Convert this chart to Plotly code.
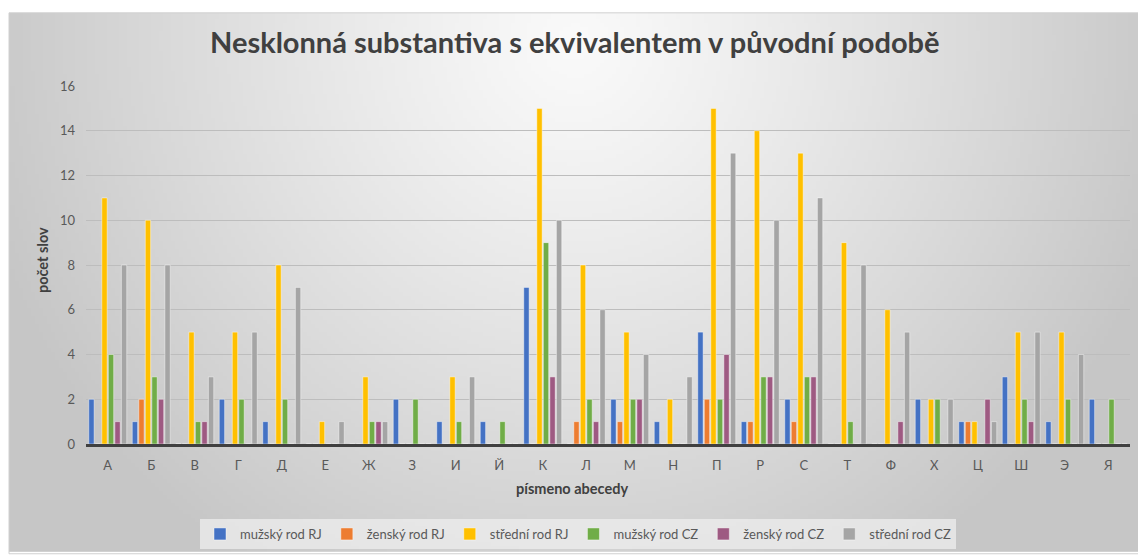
import base64, struct, zlib
import numpy as np
import plotly.graph_objects as go

categories = ["А", "Б", "В", "Г", "Д", "Е", "Ж", "З", "И", "Й", "К", "Л",
              "М", "Н", "П", "Р", "С", "Т", "Ф", "Х", "Ц", "Ш", "Э", "Я"]
muzsky_rj  = [2, 1, 0, 2, 1, 0, 0, 2, 1, 1, 7, 0, 2, 1, 5, 1, 2, 0, 0, 2, 1, 3, 1, 2]
zensky_rj  = [0, 2, 0, 0, 0, 0, 0, 0, 0, 0, 0, 1, 1, 0, 2, 1, 1, 0, 0, 0, 1, 0, 0, 0]
stredni_rj = [11, 10, 5, 5, 8, 1, 3, 0, 3, 0, 15, 8, 5, 2, 15, 14, 13, 9, 6, 2, 1, 5, 5, 0]
muzsky_cz  = [4, 3, 1, 2, 2, 0, 1, 2, 1, 1, 9, 2, 2, 0, 2, 3, 3, 1, 0, 2, 0, 2, 2, 2]
zensky_cz  = [1, 2, 1, 0, 0, 0, 1, 0, 0, 0, 3, 1, 2, 0, 4, 3, 3, 0, 1, 0, 2, 1, 0, 0]
stredni_cz = [8, 8, 3, 5, 7, 1, 1, 0, 3, 0, 10, 6, 4, 3, 13, 10, 11, 8, 5, 2, 1, 5, 4, 0]

series_names = ["mužský rod RJ", "ženský rod RJ", "střední rod RJ",
                "mužský rod CZ", "ženský rod CZ", "střední rod CZ"]
series_values = [muzsky_rj, zensky_rj, stredni_rj, muzsky_cz, zensky_cz, stredni_cz]
series_colors = ["#4472C4", "#ED7D31", "#FFC000", "#70AD47", "#9E5A82", "#A5A5A5"]

W, H = 1138, 557
L, R, T, B = 86, 8, 86, 109
PW, PH = W - L - R, H - T - B

def px_x(p):
    return (p - L) / PW

def px_y(p):
    return (H - B - p) / PH

# radial gradient background image (chart area)
gw, gh = 282, 136
xs = np.linspace(9, W, gw)
ys = np.linspace(12, H, gh)
X, Y = np.meshgrid(xs, ys)
d = np.sqrt(((X - 575) / 620.0) ** 2 + ((Y - 40) / 640.0) ** 2)
d = np.clip(d, 0, 1)
val = 250 - (250 - 198) * d ** 1.15
img = np.clip(val, 0, 255).astype(np.uint8)
raw = b"".join(b"\x00" + bytes(np.repeat(row, 3).tobytes()) for row in img)

def chunk(tag, data):
    c = struct.pack(">I", len(data)) + tag + data
    return c + struct.pack(">I", zlib.crc32(tag + data) & 0xffffffff)

png = (b"\x89PNG\r\n\x1a\n" + chunk(b"IHDR", struct.pack(">IIBBBBB", gw, gh, 8, 2, 0, 0, 0))
       + chunk(b"IDAT", zlib.compress(raw, 9)) + chunk(b"IEND", b""))
bg_uri = "data:image/png;base64," + base64.b64encode(png).decode()

fig = go.Figure()
for name, vals, col in zip(series_names, series_values, series_colors):
    fig.add_trace(go.Bar(
        x=categories, y=vals, name=name,
        marker=dict(color=col, line=dict(color="rgba(255,255,255,0.55)", width=0.8)),
    ))

font_family = "Lato, 'Open Sans', sans-serif"

fig.update_layout(
    width=W, height=H,
    margin=dict(l=L, r=R, t=T, b=B, pad=0),
    paper_bgcolor="white",
    plot_bgcolor="rgba(0,0,0,0)",
    barmode="group",
    bargap=0.1,
    bargroupgap=0.18,
    font=dict(family=font_family, color="#595959", size=13),
    showlegend=True,
    legend=dict(
        orientation="h", xanchor="center", yanchor="middle",
        x=px_x(578), y=px_y(539),
        bgcolor="rgba(238,238,238,0.75)",
        font=dict(size=13, color="#595959"),
        itemwidth=30, traceorder="normal",
    ),
    images=[dict(
        source=bg_uri, xref="paper", yref="paper",
        x=px_x(9), y=px_y(12), sizex=px_x(W) - px_x(9), sizey=px_y(12) - px_y(H),
        xanchor="left", yanchor="top", sizing="stretch", layer="below",
    )],
    shapes=[dict(
        type="rect", xref="paper", yref="paper",
        x0=px_x(9), x1=px_x(W + 2), y0=px_y(H + 2), y1=px_y(12),
        line=dict(color="#d0d0d0", width=1), fillcolor="rgba(0,0,0,0)", layer="below",
    )],
    annotations=[
        dict(text="<b>Nesklonná substantiva s ekvivalentem v původní podobě</b>",
             xref="paper", yref="paper", x=px_x(575), y=px_y(41),
             xanchor="center", yanchor="middle", showarrow=False,
             font=dict(size=29, color="#404040", family=font_family)),
        dict(text="<b>počet slov</b>", xref="paper", yref="paper",
             x=px_x(42), y=px_y(262), xanchor="center", yanchor="middle",
             textangle=-90, showarrow=False,
             font=dict(size=14.5, color="#404040", family=font_family)),
        dict(text="<b>písmeno abecedy</b>", xref="paper", yref="paper",
             x=px_x(572), y=px_y(493), xanchor="center", yanchor="middle",
             showarrow=False, font=dict(size=14.5, color="#404040", family=font_family)),
    ],
)

fig.update_yaxes(
    range=[0, 16], dtick=2, showgrid=True, gridcolor="#bdbdbd", gridwidth=1,
    zeroline=False, showline=False, ticks="", ticklabelstandoff=10,
    tickfont=dict(size=13, color="#595959"),
)
fig.update_xaxes(
    showgrid=False, showline=True, linecolor="#404040", linewidth=2.5,
    ticks="", ticklabelstandoff=8, tickfont=dict(size=13, color="#595959"),
)

fig.write_html("out.html")
